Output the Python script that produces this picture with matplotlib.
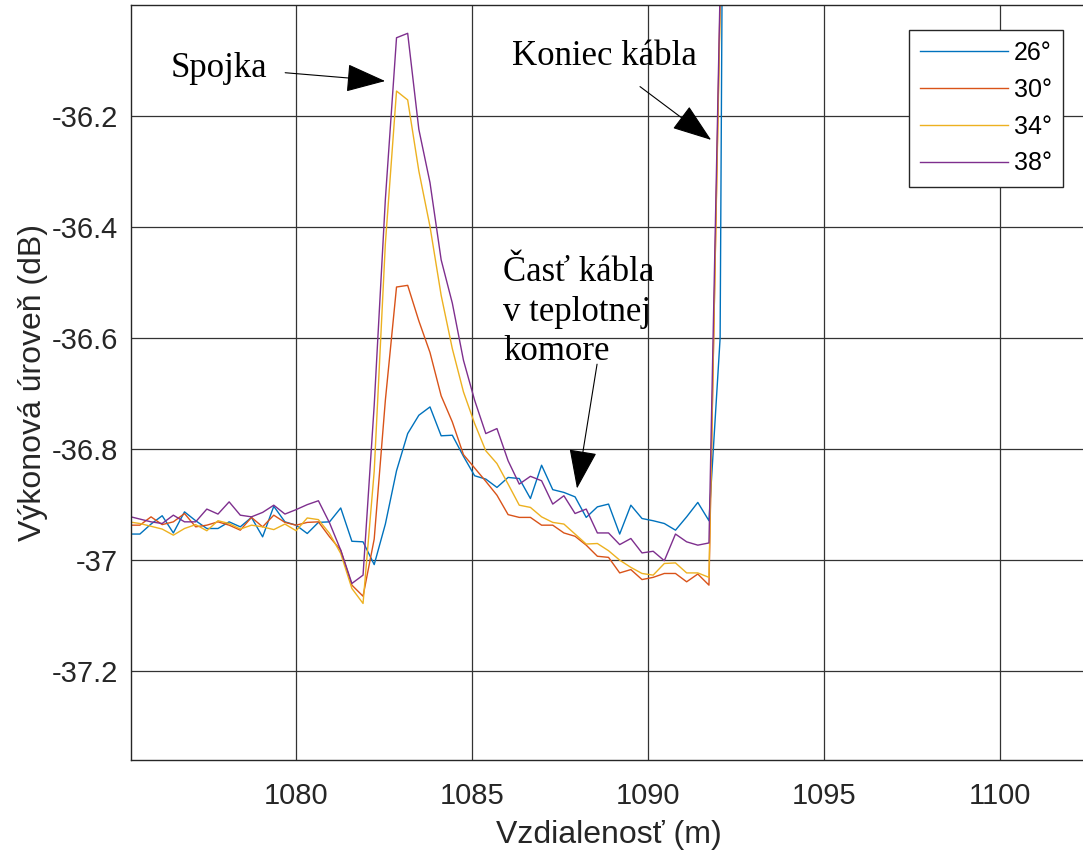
import numpy as np
import matplotlib
matplotlib.use('Agg')
import matplotlib.pyplot as plt

plt.rcParams['font.family'] = ['Liberation Sans', 'DejaVu Sans']
plt.rcParams['axes.unicode_minus'] = False

# vzorky z OTDR, krok 0.317 m okolo 1080 m
krok = 0.317
vzdialenost = 1080 + krok * np.arange(-15, 40)

t26 = [-36.953, -36.953, -36.935, -36.920, -36.951, -36.913, -36.929, -36.943, -36.943, -36.931,
       -36.940, -36.923, -36.958, -36.903, -36.931, -36.937, -36.952, -36.932, -36.931, -36.906,
       -36.966, -36.967, -37.008, -36.935, -36.839, -36.772, -36.739, -36.724, -36.776, -36.775,
       -36.813, -36.848, -36.854, -36.869, -36.851, -36.853, -36.889, -36.829, -36.873, -36.878,
       -36.886, -36.923, -36.904, -36.899, -36.953, -36.901, -36.925, -36.929, -36.934, -36.946,
       -36.922, -36.896, -36.929, -36.600, -33.0]
t30 = [-36.937, -36.937, -36.922, -36.936, -36.931, -36.916, -36.940, -36.937, -36.931, -36.937,
       -36.946, -36.923, -36.940, -36.919, -36.932, -36.937, -36.932, -36.931, -36.958, -36.982,
       -37.045, -37.065, -36.962, -36.712, -36.508, -36.505, -36.569, -36.626, -36.704, -36.751,
       -36.810, -36.834, -36.858, -36.883, -36.918, -36.923, -36.923, -36.937, -36.937, -36.951,
       -36.957, -36.973, -36.993, -36.995, -37.023, -37.017, -37.035, -37.031, -37.024, -37.024,
       -37.039, -37.025, -37.045, -35.990, -33.0]
t34 = [-36.931, -36.934, -36.939, -36.944, -36.955, -36.943, -36.936, -36.947, -36.929, -36.934,
       -36.944, -36.937, -36.940, -36.945, -36.935, -36.947, -36.924, -36.927, -36.952, -36.988,
       -37.051, -37.078, -36.840, -36.430, -36.155, -36.171, -36.299, -36.399, -36.523, -36.619,
       -36.697, -36.754, -36.803, -36.826, -36.863, -36.901, -36.905, -36.922, -36.932, -36.935,
       -36.953, -36.971, -36.970, -36.983, -37.000, -37.013, -37.024, -37.027, -37.006, -37.005,
       -37.023, -37.023, -37.031, -36.010, -33.0]
t38 = [-36.921, -36.926, -36.931, -36.934, -36.919, -36.931, -36.931, -36.908, -36.917, -36.895,
       -36.919, -36.922, -36.914, -36.901, -36.917, -36.909, -36.900, -36.893, -36.933, -36.982,
       -37.042, -37.027, -36.721, -36.350, -36.059, -36.051, -36.224, -36.320, -36.459, -36.537,
       -36.640, -36.712, -36.772, -36.763, -36.821, -36.863, -36.849, -36.857, -36.899, -36.884,
       -36.916, -36.908, -36.951, -36.951, -36.972, -36.961, -36.987, -36.984, -37.001, -36.953,
       -36.967, -36.973, -36.969, -35.970, -33.0]

teploty = ['26°', '30°', '34°', '38°']
farby = ['#0072BD', '#D95319', '#EDB120', '#7E2F8E']

fig = plt.figure(figsize=(10.83, 8.52), dpi=100)
ax = fig.add_axes([131/1083, 92/852, 955/1083, 755/852])

for hodnoty, popis, farba in zip([t26, t30, t34, t38], teploty, farby):
    ax.plot(vzdialenost, hodnoty, color=farba, lw=1.0, label=popis)

ax.set_xlim(1075.31, 1102.44)
ax.set_ylim(-37.36, -36.0)
ax.set_xticks([1080, 1085, 1090, 1095, 1100])
ax.set_yticks([-37.2, -37, -36.8, -36.6, -36.4, -36.2])
ax.set_yticklabels(['-37.2', '-37', '-36.8', '-36.6', '-36.4', '-36.2'])
ax.grid(True, color='#333333', lw=0.9)
ax.set_axisbelow(True)
for s in ax.spines.values():
    s.set_color('#262626')
    s.set_linewidth(1.0)
ax.tick_params(axis='x', direction='in', length=0, labelsize=21, pad=16, colors='#262626')
ax.tick_params(axis='y', direction='in', length=0, labelsize=21, pad=9.5, colors='#262626')

ax.set_xlabel('Vzdialenosť (m)', fontsize=23, color='#262626')
ax.set_ylabel('Výkonová úroveň (dB)', fontsize=23, color='#262626')
ax.xaxis.set_label_coords(0.5, -0.080)
ax.yaxis.set_label_coords(-0.087, 0.5)

leg = ax.legend(loc='upper right', bbox_to_anchor=(0.976, 0.967), borderaxespad=0,
                fontsize=18, handlelength=3.5, handletextpad=0.25, labelspacing=0.51,
                borderpad=0.45, fancybox=False, framealpha=1)
leg.get_frame().set_edgecolor('#262626')
leg.get_frame().set_linewidth(1.0)

# popisky so šípkami
serif = ['Liberation Serif', 'DejaVu Serif']
sipka = dict(arrowstyle='-|>,head_length=1.26,head_width=0.45', color='black',
             lw=0.8, shrinkA=0, shrinkB=0, mutation_scale=20)

ax.text(1077.81, -36.115, 'Spojka', family=serif, fontsize=25, ha='center', va='center')
ax.annotate('', xy=(1082.53, -36.137), xytext=(1079.69, -36.122), arrowprops=sipka)

ax.text(1088.75, -36.093, 'Koniec kábla', family=serif, fontsize=25, ha='center', va='center')
ax.annotate('', xy=(1091.79, -36.243), xytext=(1089.77, -36.147), arrowprops=sipka)

ax.text(1085.88, -36.453, 'Časť kábla\nv teplotnej\nkomore', family=serif, fontsize=25,
        ha='left', va='top', linespacing=1.25)
ax.annotate('', xy=(1087.98, -36.871), xytext=(1088.55, -36.647), arrowprops=sipka)

fig.savefig('out.png', dpi=100)
